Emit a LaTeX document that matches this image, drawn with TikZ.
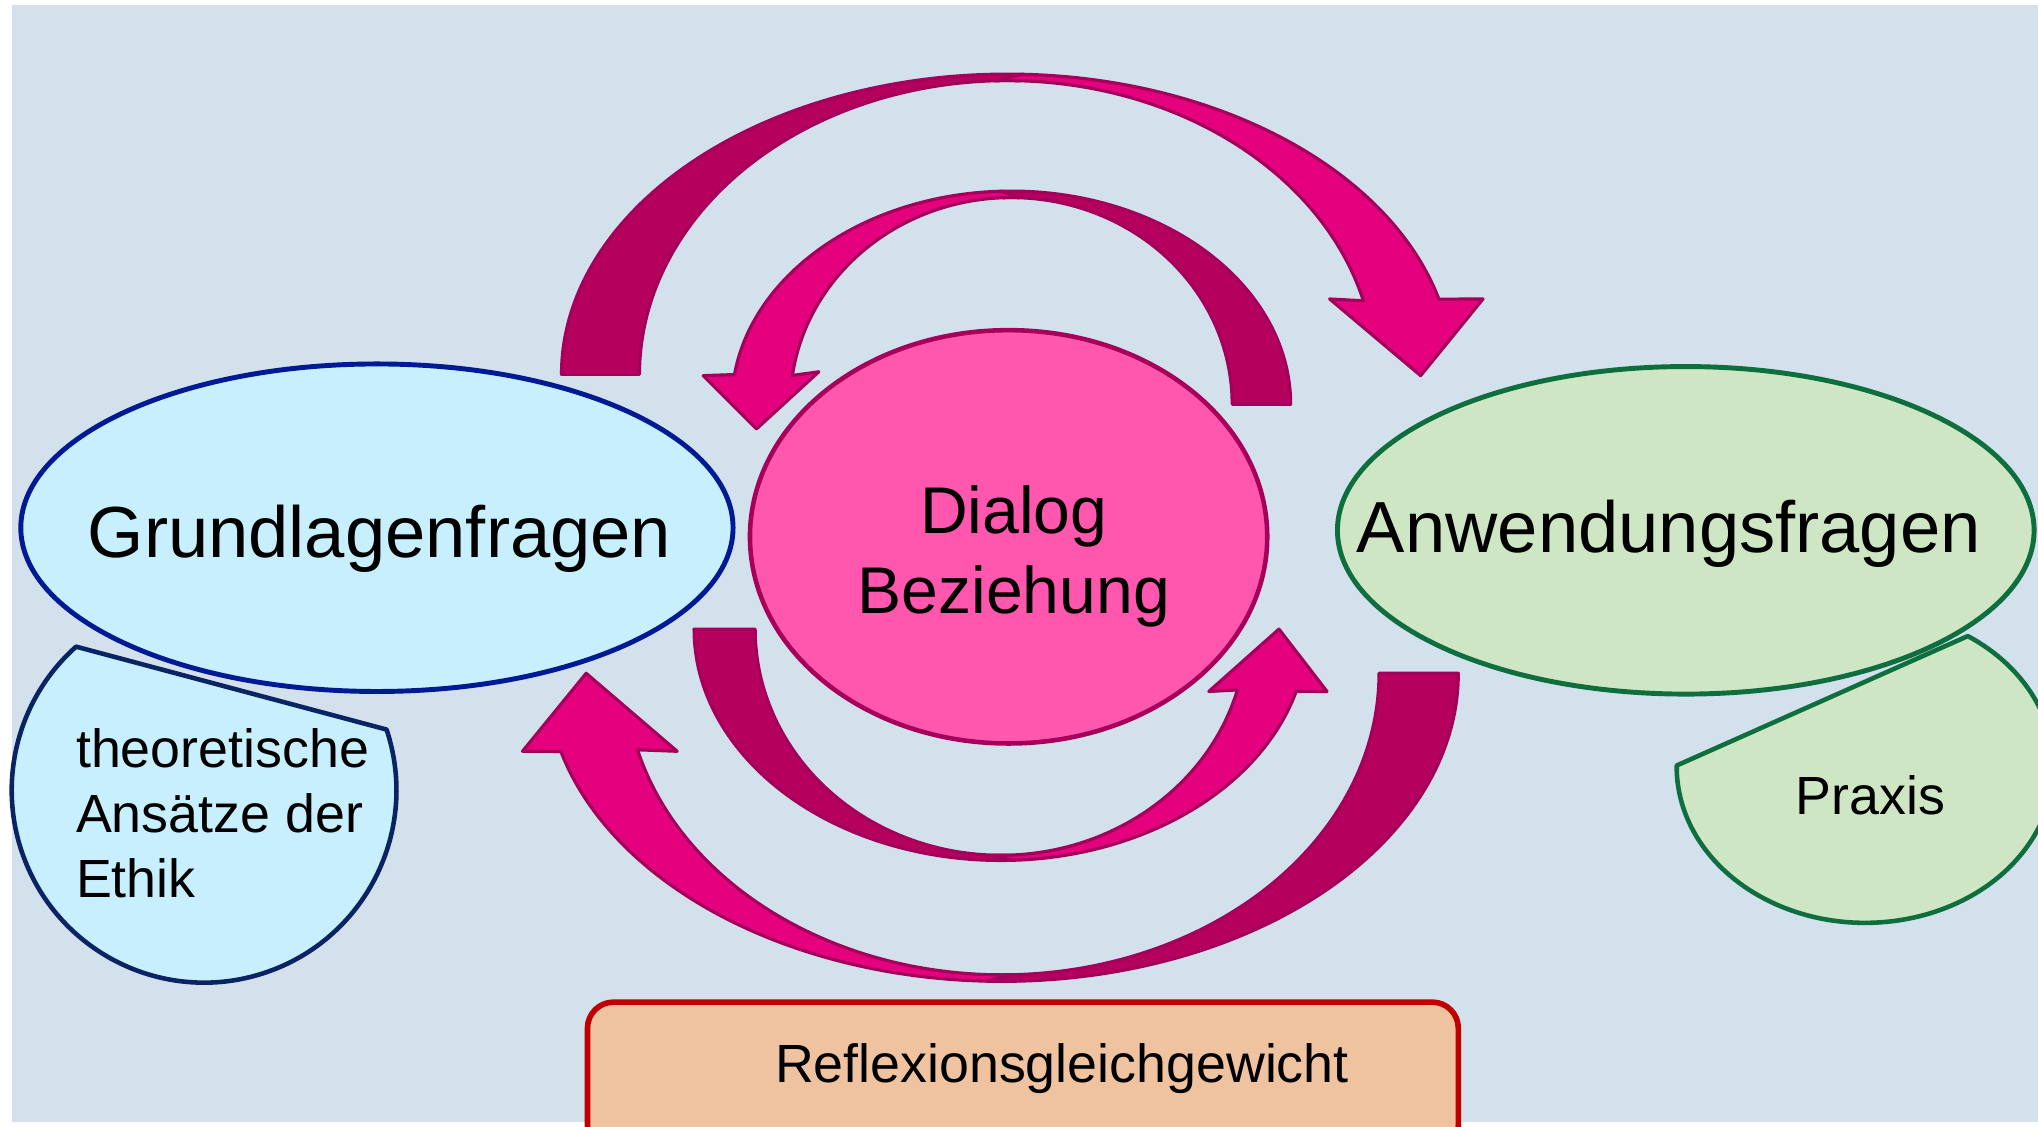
\documentclass[tikz,border=0pt]{standalone}
\usepackage{fontspec}
\setmainfont{Liberation Sans}
\usetikzlibrary{shapes.geometric, calc}

\definecolor{bgblue}{HTML}{D3E1EC}
\definecolor{grundfill}{HTML}{C7EFFD}
\definecolor{grundline}{HTML}{001A94}
\definecolor{ethikline}{HTML}{0A2463}
\definecolor{anwfill}{HTML}{CFE6C4}
\definecolor{anwline}{HTML}{0E6E3E}
\definecolor{dialogfill}{HTML}{FF57AE}
\definecolor{dialogline}{HTML}{A6005A}
\definecolor{ribdark}{HTML}{B6005E}
\definecolor{riblight}{HTML}{E5007E}
\definecolor{ribline}{HTML}{A2005A}
\definecolor{reflfill}{HTML}{EFC2A0}
\definecolor{reflline}{HTML}{C00000}

\begin{document}
\begin{tikzpicture}[
  x=0.013cm, y=-0.013cm,
  bubble/.style = {ellipse, inner sep=0pt, line width=1.4pt},
  grundbubble/.style = {bubble, draw=grundline, fill=grundfill,
    minimum width=7.124cm, minimum height=3.276cm},
  anwbubble/.style = {bubble, draw=anwline, fill=anwfill,
    minimum width=6.968cm, minimum height=3.276cm},
  dialogbubble/.style = {bubble, draw=dialogline, fill=dialogfill, line width=1.3pt,
    minimum width=5.174cm, minimum height=4.134cm},
  reflbox/.style = {draw=reflline, fill=reflfill, line width=1.6pt,
    rounded corners=0.26cm, minimum width=8.71cm, minimum height=1.495cm, inner sep=0pt},
  ribdarkpart/.style = {draw=ribline, fill=ribdark, line width=0.9pt, line join=round},
  riblightpart/.style = {draw=ribline, fill=riblight, line width=0.9pt, line join=round},
  chordshape/.style = {line width=1.3pt, line join=round},
  bigtext/.style = {inner sep=0pt, font=\fontsize{20.6}{24.7}\selectfont},
  midtext/.style = {inner sep=0pt, align=center, font=\fontsize{18.8}{22.9}\selectfont},
  smalltext/.style = {inner sep=0pt, align=left, font=\fontsize{15.3}{18.5}\selectfont}
]

% Page and background
\fill[white] (0,0) rectangle (1568,867);
\useasboundingbox (0,0) rectangle (1568,867);
\fill[bgblue] (9,4) rectangle (1568,863);

% Centres of the four curved arrows
\coordinate (arcTopOuter) at (775,288);
\coordinate (arcTopInner) at (778,311);
\coordinate (arcBotInner) at (770,484);
\coordinate (arcBotOuter) at (771,518);

% === ARROWS ===

% Top outer arrow: Grundlagenfragen -> Anwendungsfragen
\draw[ribdarkpart] ($(arcTopOuter)+(180:343 and 231)$)
  arc[start angle=180, end angle=272, x radius=343, y radius=231]
  -- ($(arcTopOuter)+(272:283 and 226)$)
  arc[start angle=272, end angle=180, x radius=283, y radius=226] -- cycle;
\draw[riblightpart] ($(arcTopOuter)+(272:343 and 231)$)
  arc[start angle=272, end angle=345.5, x radius=343, y radius=231]
  -- ($(arcTopOuter)+(366,-58)$) -- ($(arcTopOuter)+(318,1)$)
  -- ($(arcTopOuter)+(248,-58)$) -- ($(arcTopOuter)+(345.5:283 and 226)$)
  arc[start angle=345.5, end angle=268, x radius=283, y radius=226] -- cycle;

% Top inner arrow: Dialog -> Grundlagenfragen
\draw[ribdarkpart] ($(arcTopInner)+(268:215 and 164)$)
  arc[start angle=268, end angle=360, x radius=215, y radius=164]
  -- ($(arcTopInner)+(0:170 and 159)$)
  arc[start angle=360, end angle=268, x radius=170, y radius=159] -- cycle;
\draw[riblightpart] ($(arcTopInner)+(268:215 and 164)$)
  arc[start angle=268, end angle=188, x radius=215, y radius=164]
  -- ($(arcTopInner)+(-237,-22)$) -- ($(arcTopInner)+(-196,19)$)
  -- ($(arcTopInner)+(-148,-25)$) -- ($(arcTopInner)+(188:170 and 159)$)
  arc[start angle=188, end angle=272, x radius=170, y radius=159] -- cycle;

% Bottom inner arrow: Grundlagenfragen -> Dialog
\draw[ribdarkpart] ($(arcBotInner)+(180:236 and 178)$)
  arc[start angle=180, end angle=88, x radius=236, y radius=178]
  -- ($(arcBotInner)+(88:189 and 174)$)
  arc[start angle=88, end angle=180, x radius=189, y radius=174] -- cycle;
\draw[riblightpart] ($(arcBotInner)+(88:236 and 178)$)
  arc[start angle=88, end angle=15.6, x radius=236, y radius=178]
  -- ($(arcBotInner)+(251,48)$) -- ($(arcBotInner)+(214,0)$)
  -- ($(arcBotInner)+(160,48)$) -- ($(arcBotInner)+(15.6:189 and 174)$)
  arc[start angle=15.6, end angle=92, x radius=189, y radius=174] -- cycle;

% Bottom outer arrow: Anwendungsfragen -> Grundlagenfragen
\draw[ribdarkpart] ($(arcBotOuter)+(0:351 and 237)$)
  arc[start angle=0, end angle=92, x radius=351, y radius=237]
  -- ($(arcBotOuter)+(92:290 and 232)$)
  arc[start angle=92, end angle=0, x radius=290, y radius=232] -- cycle;
\draw[riblightpart] ($(arcBotOuter)+(92:351 and 237)$)
  arc[start angle=92, end angle=165.3, x radius=351, y radius=237]
  -- ($(arcBotOuter)+(-369,60)$) -- ($(arcBotOuter)+(-320,0)$)
  -- ($(arcBotOuter)+(-250,60)$) -- ($(arcBotOuter)+(165.3:290 and 232)$)
  arc[start angle=165.3, end angle=88, x radius=290, y radius=232] -- cycle;

% === MAIN BUBBLES ===
\node[grundbubble] (grund) at (290,406) {};
\node[bigtext, anchor=base] (grundtxt) at (292,429) {Grundlagenfragen};

\node[anwbubble] (anw) at (1297,408) {};
\node[bigtext, anchor=base] (anwtxt) at (1284,425) {Anwendungsfragen};

\node[dialogbubble] (dialog) at (776,413) {};
\node[midtext] (dialogtxt) at (780,428) {Dialog\\Beziehung};

% === SIDE SHAPES ===
% theoretical approaches (circle with cut chord)
\coordinate (ethikC) at (157,608);
\draw[chordshape, draw=ethikline, fill=grundfill] ($(ethikC)+(-18.4:148)$)
  arc[start angle=-18.4, end angle=228.3, radius=148] -- cycle;
\node[smalltext, anchor=north west] (ethiktxt) at (58,560)
  {theoretische\\Ans\"atze der\\Ethik};

% practice (ellipse with cut chord)
\coordinate (praxisC) at (1435,590);
\draw[chordshape, draw=anwline, fill=anwfill] ($(praxisC)+(-57:145 and 120)$)
  arc[start angle=-57, end angle=180.5, x radius=145, y radius=120] -- cycle;
\node[smalltext, anchor=base] (praxistxt) at (1439,627) {Praxis};

% === BOTTOM BOX ===
\node[reflbox] (refl) at (787,828.5) {};
\node[smalltext, anchor=base] (refltxt) at (817,833) {Reflexionsgleichgewicht};

\end{tikzpicture}
\end{document}
